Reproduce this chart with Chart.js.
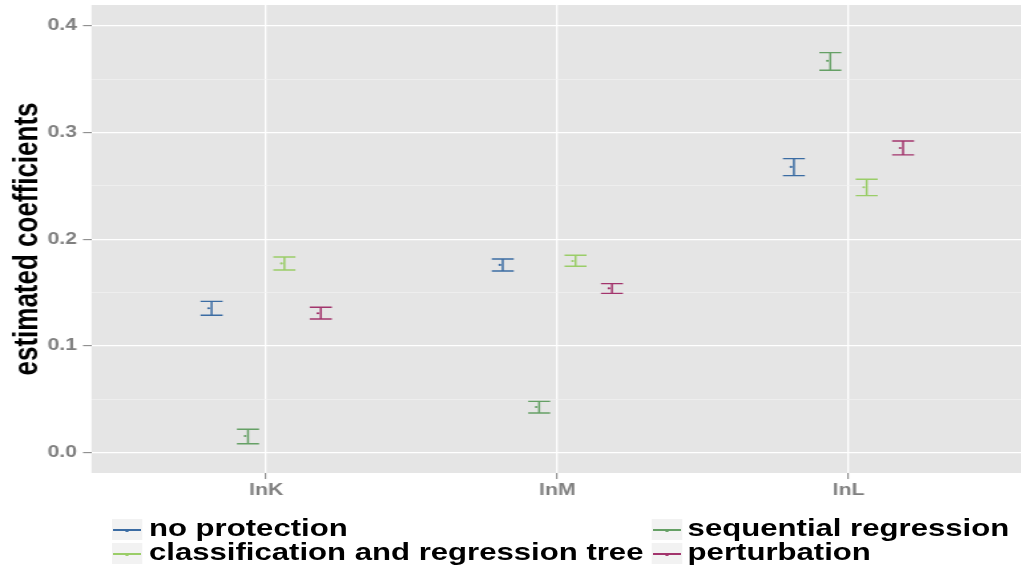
<!DOCTYPE html>
<html>
<head>
<meta charset="utf-8">
<script src="https://cdn.jsdelivr.net/npm/chart.js@4.4.1/dist/chart.umd.min.js"></script>
<style>
  html, body { margin: 0; padding: 0; background: #ffffff; overflow: hidden; }
  #stage {
    position: absolute; left: 0; top: 0;
    width: 768px; height: 571px;
    transform: scaleX(1.33); transform-origin: 0 0;
  }
  #plot { position: absolute; left: 0; top: 0; width: 768px; height: 571px; }
  .key {
    position: absolute; width: 23px; height: 21px; background: #f2f2f2;
  }
  .key i {
    position: absolute; left: 1px; right: 1px; top: 10px; height: 2px; display: block;
  }
  .key b {
    position: absolute; left: 10.3px; top: 9.5px; width: 3px; height: 3px; display: block; border-radius: 50%;
  }
  .lab {
    position: absolute; font-family: "Liberation Sans", Arial, sans-serif; font-weight: bold;
    font-size: 23.4px; line-height: 23.4px; height: 24px; color: #000; white-space: nowrap;
  }
</style>
</head>
<body>
<div id="stage">
  <div id="plot"><canvas id="c"></canvas></div>
  <div id="legend"></div>
</div>
<script>
// Regressors on the x axis
const categories = ['lnK', 'lnM', 'lnL'];

// Methods, in dodge order
const seriesNames = ['no protection', 'sequential regression', 'classification and regression tree', 'perturbation'];
const seriesColors = ['#3b6ca3', '#65a065', '#9acd68', '#a2346c'];

// Point estimates and interval bounds per method (lnK, lnM, lnL)
const noProtectionEst   = [0.1353, 0.1759, 0.2678];
const noProtectionLow   = [0.1287, 0.1703, 0.2597];
const noProtectionHigh  = [0.1418, 0.1815, 0.2756];

const seqRegressionEst  = [0.0155, 0.0427, 0.3673];
const seqRegressionLow  = [0.0083, 0.0371, 0.3585];
const seqRegressionHigh = [0.0218, 0.0480, 0.3750];

const cartEst           = [0.1773, 0.1796, 0.2488];
const cartLow           = [0.1712, 0.1747, 0.2409];
const cartHigh          = [0.1834, 0.1850, 0.2563];

const perturbationEst   = [0.1306, 0.1540, 0.2856];
const perturbationLow   = [0.1252, 0.1493, 0.2791];
const perturbationHigh  = [0.1362, 0.1584, 0.2922];

// Axis ticks
const yMajorTicks = [0.0, 0.1, 0.2, 0.3, 0.4];
const yMinorTicks = [0.05, 0.15, 0.25, 0.35];

const estimates = [noProtectionEst, seqRegressionEst, cartEst, perturbationEst];
const lows      = [noProtectionLow, seqRegressionLow, cartLow, perturbationLow];
const highs     = [noProtectionHigh, seqRegressionHigh, cartHigh, perturbationHigh];

const DODGE = 0.125;       // spacing between methods within a category
const HALF_CAP = 0.0378;   // half width of the whisker caps, in category units
const GREY = '#7f7f7f';
const FONT = '"Liberation Sans", Arial, sans-serif';

const datasets = seriesNames.map((name, s) => ({
  label: name,
  data: categories.map((c, i) => ({
    x: i + 1 + (s - 1.5) * DODGE,
    y: estimates[s][i],
    lo: lows[s][i],
    hi: highs[s][i]
  })),
  borderColor: seriesColors[s],
  backgroundColor: seriesColors[s],
  pointRadius: 0,
  showLine: false
}));

const isMajor = v => yMajorTicks.some(t => Math.abs(t - v) < 1e-9);

// grey panel behind the grid
const panelBackground = {
  id: 'panelBackground',
  beforeDraw(chart) {
    const { ctx, chartArea: a } = chart;
    ctx.save();
    ctx.fillStyle = '#e5e5e5';
    ctx.fillRect(a.left, a.top, a.right - a.left, a.bottom - a.top);
    ctx.restore();
  }
};

// interval whiskers and the estimate marker
const errorBars = {
  id: 'errorBars',
  afterDatasetsDraw(chart) {
    const { ctx, scales: { x, y } } = chart;
    ctx.save();
    chart.data.datasets.forEach(ds => {
      ds.data.forEach(p => {
        const cx = x.getPixelForValue(p.x);
        const l = x.getPixelForValue(p.x - HALF_CAP);
        const r = x.getPixelForValue(p.x + HALF_CAP);
        const yHi = y.getPixelForValue(p.hi);
        const yLo = y.getPixelForValue(p.lo);
        const yMid = y.getPixelForValue(p.y);
        ctx.strokeStyle = ds.borderColor;
        ctx.lineWidth = 1.5;
        ctx.beginPath();
        ctx.moveTo(cx, yHi); ctx.lineTo(cx, yLo);
        ctx.stroke();
        ctx.lineWidth = 1.4;
        ctx.beginPath();
        ctx.moveTo(l, yHi); ctx.lineTo(r, yHi);
        ctx.moveTo(l, yLo); ctx.lineTo(r, yLo);
        ctx.stroke();
        ctx.fillStyle = ds.backgroundColor;
        ctx.beginPath();
        ctx.arc(cx - 2.2, yMid, 1.1, 0, Math.PI * 2);
        ctx.fill();
      });
    });
    ctx.restore();
  }
};

new Chart(document.getElementById('c'), {
  type: 'scatter',
  data: { datasets },
  options: {
    responsive: true,
    maintainAspectRatio: false,
    animation: false,
    events: [],
    layout: { padding: { top: 5, right: 0, left: 0, bottom: 0 } },
    plugins: { legend: { display: false }, tooltip: { enabled: false } },
    scales: {
      x: {
        type: 'linear',
        min: 0.4,
        max: 3.594,
        afterBuildTicks: sc => { sc.ticks = categories.map((c, i) => ({ value: i + 1 })); },
        afterFit: sc => { sc.height = 98; sc.paddingLeft = 0; sc.paddingRight = 0; },
        border: { display: false },
        grid: {
          color: '#ffffff', lineWidth: 1.3,
          drawTicks: true, tickLength: 6, tickColor: GREY, tickWidth: 1
        },
        ticks: {
          autoSkip: false, maxRotation: 0, padding: 2,
          color: GREY,
          font: { family: FONT, size: 16, weight: 'bold' },
          callback: v => categories[Math.round(v) - 1]
        }
      },
      y: {
        min: -0.0192,
        max: 0.4197,
        afterBuildTicks: sc => {
          sc.ticks = yMajorTicks.concat(yMinorTicks).sort((a, b) => a - b).map(v => ({ value: v }));
        },
        afterFit: sc => { sc.width = 68.8; sc.paddingTop = 0; sc.paddingBottom = 0; },
        border: { display: false },
        grid: {
          color: c => isMajor(c.tick.value) ? '#ffffff' : '#f2f2f2',
          lineWidth: c => isMajor(c.tick.value) ? 1.3 : 0.7,
          drawTicks: true, tickLength: 6.4, tickWidth: 1,
          tickColor: c => isMajor(c.tick.value) ? GREY : 'rgba(0,0,0,0)'
        },
        ticks: {
          autoSkip: false, padding: 4.5,
          color: GREY,
          font: { family: FONT, size: 16, weight: 'bold' },
          callback: v => isMajor(v) ? v.toFixed(1) : ''
        },
        title: {
          display: true,
          text: 'estimated coefficients',
          color: '#000000',
          padding: { top: 5, bottom: 0 },
          font: { family: FONT, size: 26, weight: 'bold' }
        }
      }
    }
  },
  plugins: [panelBackground, errorBars]
});

// legend: two columns, filled column by column
const legendSlots = [
  { s: 0, keyLeft: 83.5, textLeft: 112, top: 519 },
  { s: 2, keyLeft: 83.5, textLeft: 112, top: 543 },
  { s: 1, keyLeft: 490, textLeft: 517, top: 519 },
  { s: 3, keyLeft: 490, textLeft: 517, top: 543 }
];
const legendEl = document.getElementById('legend');
legendSlots.forEach(slot => {
  const key = document.createElement('div');
  key.className = 'key';
  key.style.left = slot.keyLeft + 'px';
  key.style.top = slot.top + 'px';
  const line = document.createElement('i');
  line.style.background = seriesColors[slot.s];
  const dot = document.createElement('b');
  dot.style.background = seriesColors[slot.s];
  key.appendChild(line); key.appendChild(dot);
  legendEl.appendChild(key);
  const lab = document.createElement('div');
  lab.className = 'lab';
  lab.style.left = slot.textLeft + 'px';
  lab.style.top = (slot.top - 2) + 'px';
  lab.textContent = seriesNames[slot.s];
  legendEl.appendChild(lab);
});
</script>
</body>
</html>
